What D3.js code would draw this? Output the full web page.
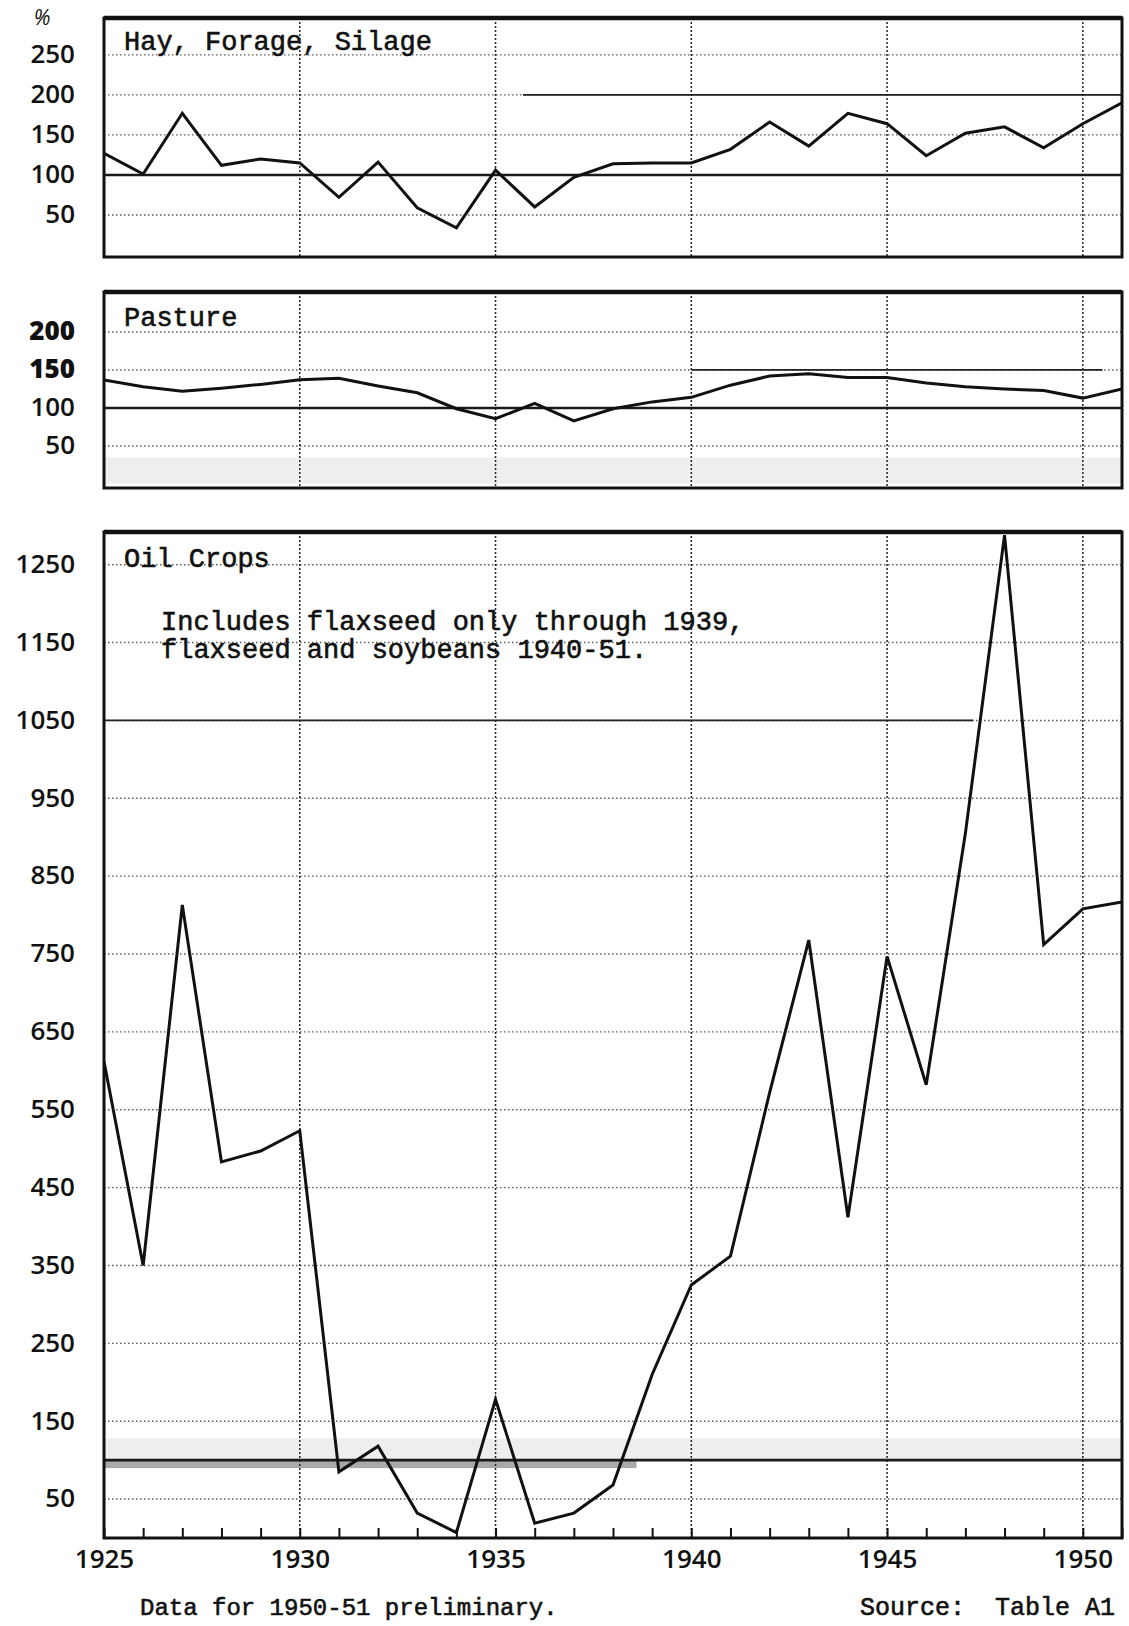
<!DOCTYPE html>
<html lang="en">
<head>
<meta charset="UTF-8">
<title>Hay, Pasture, Oil Crops 1925-51</title>
<style>
  body { margin: 0; background: #fff; }
  svg { display: block; background: #fff; }
  .tick text { font-family: "Open Sans", sans-serif; font-weight: 600; font-size: 26px; fill: #111; }
  .type { font-family: "Liberation Mono", "Courier New", monospace; fill: #111; stroke: #111; stroke-width: 0.6px; }
  .grid { stroke: #333; stroke-width: 1.4; stroke-dasharray: 1.5 2.5; opacity: 0.8; fill: none; }
  .vgrid { stroke: #222; stroke-width: 1.5; stroke-dasharray: 2 2; fill: none; }
</style>
</head>
<body>
<svg id="chart" width="1129" height="1626"></svg>
<script src="https://d3js.org/d3.v7.min.js"></script>
<script>
  // crop years, index numbers in %
  const years = [1925, 1926, 1927, 1928, 1929, 1930, 1931, 1932, 1933, 1934, 1935, 1936, 1937, 1938,
    1939, 1940, 1941, 1942, 1943, 1944, 1945, 1946, 1947, 1948, 1949, 1950, 1951];
  const hayIndex = [127, 101, 177, 112, 120, 115, 72, 116, 59, 34, 106, 60, 97, 114,
    115, 115, 132, 166, 136, 177, 164, 124, 152, 160, 134, 164, 190];
  const pastureIndex = [137, 128, 122, 126, 131, 137, 139, 129, 120, 99, 86, 106, 83, 99,
    108, 114, 130, 142, 145, 140, 140, 133, 128, 125, 123, 113, 125];
  const oilIndex = [612, 350, 813, 483, 497, 523, 85, 118, 32, 7, 178, 19, 32, 68,
    210, 325, 362, 572, 768, 412, 747, 582, 905, 1288, 762, 808, 817];

  const hayTicks = [50, 100, 150, 200, 250];
  const pastureTicks = [50, 100, 150, 200];
  const oilTicks = [50, 150, 250, 350, 450, 550, 650, 750, 850, 950, 1050, 1150, 1250];
  const yearLabels = [1925, 1930, 1935, 1940, 1945, 1950];
  const yearGrid = [1930, 1935, 1940, 1945, 1950];

  const svg = d3.select("#chart");
  const x = d3.scaleLinear().domain([1925, 1951]).range([104, 1122]);

  const panels = [
    { id: "hay", name: "Hay, Forage, Silage", values: hayIndex, ticks: hayTicks,
      grid: [50, 150, 200, 250], top: 18, bottom: 257, domain: [-2.5, 296], titleY: 50,
      solid: [{ v: 200, from: 1935.7, to: 1951, w: 1.6 }] },
    { id: "pasture", name: "Pasture", values: pastureIndex, ticks: pastureTicks,
      grid: [50, 150, 200], top: 292, bottom: 488, domain: [-5.3, 252.6], titleY: 326,
      solid: [{ v: 150, from: 1940, to: 1950.5, w: 1.8 }], band: [0.5, 35] },
    { id: "oil", name: "Oil Crops", values: oilIndex, ticks: oilTicks,
      grid: oilTicks, top: 532, bottom: 1538, domain: [0, 1292], titleY: 567,
      solid: [{ v: 1050, from: 1925, to: 1947.2, w: 1.8 }], band: [100, 128] }
  ];

  panels.forEach(p => {
    const y = d3.scaleLinear().domain(p.domain).range([p.bottom, p.top]);
    const g = svg.append("g").attr("class", p.id);

    svg.append("clipPath").attr("id", "clip-" + p.id)
      .append("rect")
      .attr("x", x(1925)).attr("y", p.top)
      .attr("width", x(1951) - x(1925)).attr("height", p.bottom - p.top);

    // faint grey strip from the scan
    if (p.band) {
      g.append("rect")
        .attr("x", x(1925)).attr("width", x(1951) - x(1925))
        .attr("y", y(p.band[1])).attr("height", y(p.band[0]) - y(p.band[1]))
        .attr("fill", "#eeeeee");
    }
    if (p.id === "oil") {
      g.append("rect")
        .attr("x", x(1925)).attr("width", x(1938.6) - x(1925))
        .attr("y", y(100)).attr("height", 8)
        .attr("fill", "#8c8c8c").attr("opacity", 0.75);
    }

    g.selectAll("line.grid").data(p.grid).join("line")
      .attr("class", "grid")
      .attr("x1", x(1925)).attr("x2", x(1951))
      .attr("y1", d => y(d)).attr("y2", d => y(d));

    g.selectAll("line.vgrid").data(yearGrid).join("line")
      .attr("class", "vgrid")
      .attr("x1", d => x(d)).attr("x2", d => x(d))
      .attr("y1", p.top).attr("y2", p.bottom);

    g.selectAll("line.solid").data(p.solid).join("line")
      .attr("class", "solid")
      .attr("x1", d => x(d.from)).attr("x2", d => x(d.to))
      .attr("y1", d => y(d.v)).attr("y2", d => y(d.v))
      .attr("stroke", "#222").attr("stroke-width", d => d.w);

    // 100 % base line
    g.append("line")
      .attr("x1", x(1925)).attr("x2", x(1951))
      .attr("y1", y(100)).attr("y2", y(100))
      .attr("stroke", "#1a1a1a").attr("stroke-width", 2.6);

    const line = d3.line().x((d, i) => x(years[i])).y(d => y(d));
    g.append("path")
      .datum(p.values)
      .attr("clip-path", "url(#clip-" + p.id + ")")
      .attr("d", line)
      .attr("fill", "none")
      .attr("stroke", "#111")
      .attr("stroke-width", 3)
      .attr("stroke-linejoin", "miter");

    g.append("rect")
      .attr("x", x(1925)).attr("y", p.top)
      .attr("width", x(1951) - x(1925)).attr("height", p.bottom - p.top)
      .attr("fill", "none").attr("stroke", "#111").attr("stroke-width", 3);
    g.append("line")
      .attr("x1", x(1925)).attr("x2", x(1951))
      .attr("y1", p.top).attr("y2", p.top)
      .attr("stroke", "#111").attr("stroke-width", 4.5);

    const ax = g.append("g")
      .attr("transform", `translate(${x(1925)},0)`)
      .call(d3.axisLeft(y).tickValues(p.ticks).tickSize(0).tickPadding(29).tickFormat(d3.format("d")));
    ax.select(".domain").remove();
    ax.selectAll(".tick text").attr("dy", "0.3em");
    if (p.id === "pasture") {
      ax.selectAll(".tick text").filter(d => d > 100).style("font-weight", 800);
    }

    g.append("text")
      .attr("class", "type")
      .attr("x", 124).attr("y", p.titleY)
      .style("font-size", "27px")
      .text(p.name);
  });

  // percent sign over the top scale
  svg.append("text")
    .attr("x", 42).attr("y", 25)
    .attr("text-anchor", "middle")
    .style("font-family", "Open Sans, sans-serif")
    .style("font-style", "italic")
    .style("font-size", "21px")
    .attr("fill", "#111")
    .text("%");

  // year axis under the oil crops panel
  const bottom = 1538;
  const minor = svg.append("g")
    .attr("transform", `translate(0,${bottom})`)
    .call(d3.axisBottom(x).tickValues(years).tickSize(-10).tickFormat(""));
  minor.select(".domain").remove();
  minor.selectAll(".tick line").attr("stroke", "#111").attr("stroke-width", 2);

  const xa = svg.append("g")
    .attr("transform", `translate(0,${bottom})`)
    .call(d3.axisBottom(x).tickValues(yearLabels).tickSize(0).tickPadding(12).tickFormat(d3.format("d")));
  xa.select(".domain").remove();

  const note = ["Includes flaxseed only through 1939,", "flaxseed and soybeans 1940-51."];
  svg.selectAll("text.note").data(note).join("text")
    .attr("class", "type note")
    .attr("x", 161).attr("y", (d, i) => 630 + i * 28)
    .style("font-size", "27px")
    .text(d => d);

  svg.append("text")
    .attr("class", "type")
    .attr("x", 140).attr("y", 1615)
    .style("font-size", "24px")
    .text("Data for 1950-51 preliminary.");

  svg.append("text")
    .attr("class", "type")
    .attr("x", 860).attr("y", 1615)
    .style("font-size", "25px")
    .style("white-space", "pre")
    .text("Source:  Table A1");
</script>
</body>
</html>
